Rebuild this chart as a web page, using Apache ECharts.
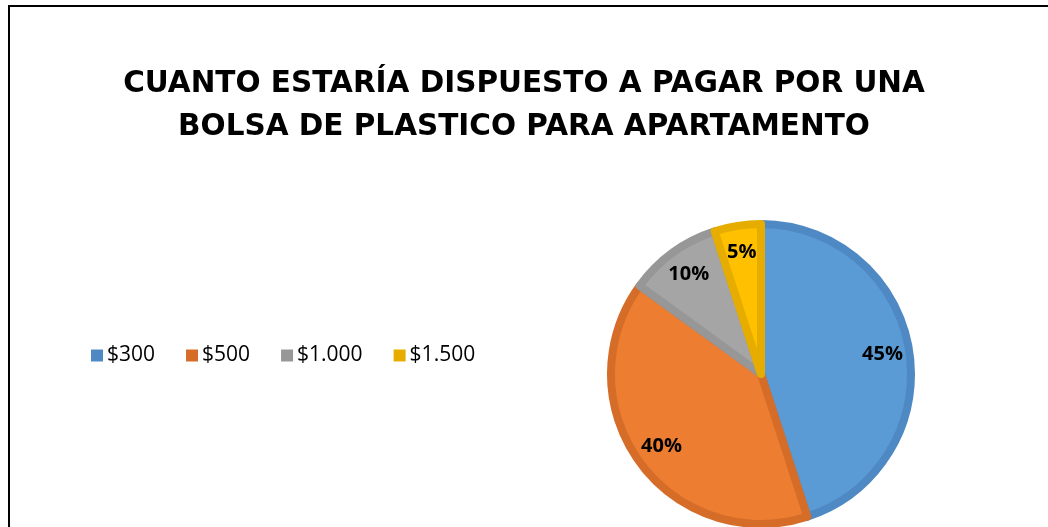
<!DOCTYPE html>
<html>
<head>
<meta charset="utf-8">
<script src="https://cdn.jsdelivr.net/npm/echarts@6/dist/echarts.min.js"></script>
<style>
  html, body { margin: 0; padding: 0; background: #fff; }
  #chart { width: 1048px; height: 527px; }
</style>
</head>
<body>
<div id="chart"></div>
<script>
// datos del gráfico
const categorias = ['$300', '$500', '$1.000', '$1.500'];
const porcentajes = [45, 40, 10, 5];
const rellenos = ['#5b9bd5', '#ed7d31', '#a5a5a5', '#ffc000'];
const bordes = ['#4f89c3', '#d56d29', '#979797', '#e6ad00'];

const titulo = 'CUANTO ESTARÍA DISPUESTO A PAGAR POR UNA\nBOLSA DE PLASTICO PARA APARTAMENTO';

const chart = echarts.init(document.getElementById('chart'));

const datos = categorias.map((c, i) => ({
  name: c,
  value: porcentajes[i],
  itemStyle: { color: rellenos[i], borderColor: bordes[i], borderWidth: 8 }
}));

chart.setOption({
  animation: false,
  title: {
    text: titulo,
    left: 'center',
    top: 58,
    textStyle: {
      fontFamily: 'DejaVu Sans',
      fontWeight: 'bold',
      fontSize: 29.5,
      lineHeight: 43,
      color: '#000'
    }
  },
  legend: {
    data: categorias.map((c, i) => ({ name: c, itemStyle: { color: bordes[i], borderWidth: 0 } })),
    left: 91,
    top: 345,
    padding: 0,
    icon: 'rect',
    itemWidth: 12,
    itemHeight: 12,
    itemGap: 31,
    selectedMode: false,
    textStyle: { fontFamily: 'Open Sans', fontSize: 21, color: '#000', padding: [0, 0, 0, -1] }
  },
  graphic: [{
    type: 'polyline',
    shape: { points: [[9, 540], [9, 6], [1060, 6]] },
    style: { stroke: '#000', lineWidth: 2, fill: null }
  }],
  series: [
    {
      type: 'pie',
      center: [761, 374],
      radius: [0, 150],
      startAngle: 90,
      clockwise: true,
      label: { show: false },
      labelLine: { show: false },
      silent: true,
      data: datos
    },
    {
      // capa transparente solo para colocar las etiquetas cerca del borde
      type: 'pie',
      center: [761, 374],
      radius: [90, 150],
      startAngle: 90,
      clockwise: true,
      silent: true,
      itemStyle: { color: 'rgba(0,0,0,0)', borderWidth: 0 },
      label: {
        show: true,
        position: 'inside',
        formatter: '{c}%',
        fontFamily: 'Open Sans',
        fontWeight: 'bold',
        fontSize: 20,
        color: '#000'
      },
      labelLine: { show: false },
      data: categorias.map((c, i) => ({ name: c, value: porcentajes[i] }))
    }
  ]
});
</script>
</body>
</html>
